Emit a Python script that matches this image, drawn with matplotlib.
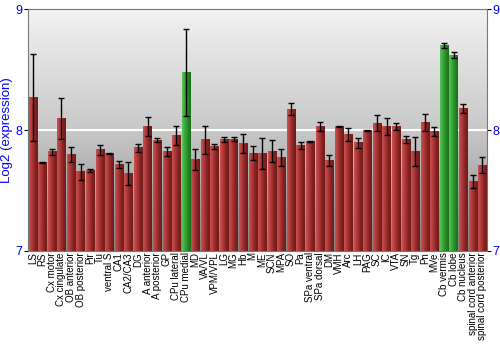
import matplotlib

matplotlib.use("Agg")
import matplotlib.pyplot as plt
import numpy as np
from matplotlib.colors import LinearSegmentedColormap

plt.rcParams["font.family"] = ["Liberation Sans", "DejaVu Sans"]

regions = ["LS", "RS", "Cx motor", "Cx cingulate", "OB anterior", "OB posterior", "Pir", "Tu",
           "ventral S", "CA1", "CA2/CA3", "DG", "A anterior", "A posterior", "GP", "CPu lateral",
           "CPu medial", "MD", "VA/VL", "VPM/VPL", "LG", "MG", "Hb", "M", "ME", "SCN", "MPA", "SO",
           "Pa", "SPa ventral", "SPa dorsal", "DM", "VMH", "Arc", "LH", "PAG", "SC", "IC", "VTA",
           "SN", "Tg", "Pn", "MVe", "Cb vermis", "Cb lobe", "Cb nucleus", "spinal cord anterior",
           "spinal cord posterior"]
expression = [8.27, 7.73, 7.82, 8.10, 7.80, 7.655, 7.666, 7.837, 7.804, 7.715, 7.644, 7.854,
              8.03, 7.917, 7.823, 7.956, 8.475, 7.757, 7.92, 7.867, 7.923, 7.925, 7.892, 7.809,
              7.807, 7.826, 7.776, 8.174, 7.876, 7.906, 8.033, 7.749, 8.033, 7.967, 7.895, 8.0,
              8.058, 8.033, 8.028, 7.923, 7.823, 8.064, 7.992, 8.704, 8.622, 8.182, 7.577, 7.71]
error = [0.36, 0.005, 0.025, 0.17, 0.06, 0.065, 0.011, 0.04, 0.005, 0.028, 0.095, 0.035,
         0.08, 0.015, 0.04, 0.076, 0.36, 0.09, 0.116, 0.02, 0.022, 0.018, 0.08, 0.057,
         0.126, 0.093, 0.072, 0.048, 0.03, 0.005, 0.036, 0.047, 0.003, 0.055, 0.044, 0.005,
         0.068, 0.07, 0.03, 0.033, 0.12, 0.073, 0.036, 0.022, 0.022, 0.036, 0.054, 0.064]
highlighted = ["CPu medial", "Cb vermis", "Cb lobe"]

red_cmap = LinearSegmentedColormap.from_list("red", ["#c85252", "#b03a3a", "#8a2424", "#6e1a1a"])
green_cmap = LinearSegmentedColormap.from_list("green", ["#58c458", "#3aa63a", "#238a23", "#1a6e1a"])
bg_cmap = LinearSegmentedColormap.from_list("bg", ["#f2f2f2", "#c8c8c8", "#848484"])

fig = plt.figure(figsize=(5, 3.5), dpi=100)
ax = fig.add_axes([0.056, 0.283, 0.918, 0.69])
ymin, ymax = 7, 9
n = len(regions)

# background: vertical grey gradient, light at the top
ax.imshow(np.linspace(0, 1, 256).reshape(-1, 1), cmap=bg_cmap, aspect="auto",
          extent=(-0.5, n - 0.5, ymin, ymax), zorder=0, origin="upper")
ax.axhline(8, color="white", lw=1.5, zorder=1)

grad = np.linspace(0, 1, 32).reshape(1, -1)
width = 0.86
for i, (name, val) in enumerate(zip(regions, expression)):
    cmap = green_cmap if name in highlighted else red_cmap
    ax.imshow(grad, cmap=cmap, aspect="auto", zorder=2,
              extent=(i - width / 2, i + width / 2, ymin, val))
ax.errorbar(range(n), expression, yerr=error, fmt="none", ecolor="black",
            elinewidth=1, capsize=2, capthick=1, zorder=3)
ax.set_xlim(-0.5, n - 0.5)
ax.set_ylim(ymin, ymax)

ax.set_xticks(range(n))
ax.set_xticklabels(regions, rotation=90, fontsize=7)
ax.tick_params(axis="x", length=0, pad=1)
ax.set_yticks([7, 8, 9])
ax.tick_params(axis="y", colors="black", labelcolor="blue", labelsize=9, length=3,
               right=True, labelright=True, pad=1)
ax.set_ylabel("Log2 (expression)", color="blue", fontsize=9.5, labelpad=2)
for s in ax.spines.values():
    s.set_color("#777777")

fig.savefig("out.png", dpi=100)
